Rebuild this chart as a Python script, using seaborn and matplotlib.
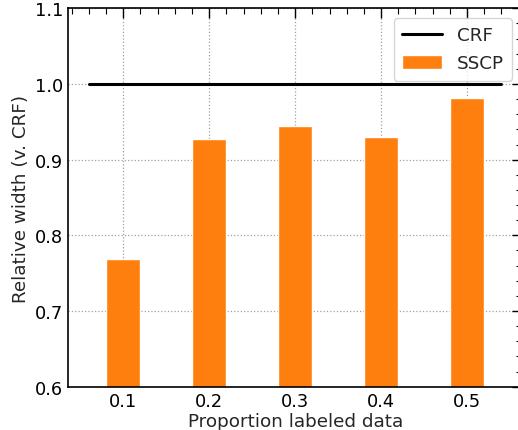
import matplotlib
matplotlib.use("Agg")
import matplotlib.pyplot as plt
import seaborn as sns
import pandas as pd
from matplotlib.ticker import MultipleLocator

proportions = [0.1, 0.2, 0.3, 0.4, 0.5]
sscp_width = [0.769, 0.927, 0.944, 0.930, 0.981]
crf_x = [0.06, 0.54]
crf_y = [1.0, 1.0]
x_ticklabels = ["0.1", "0.2", "0.3", "0.4", "0.5"]
y_ticks = [0.6, 0.7, 0.8, 0.9, 1.0, 1.1]
y_ticklabels = ["0.6", "0.7", "0.8", "0.9", "1.0", "1.1"]

sns.set_style("white")
plt.rcParams['font.family'] = ['DejaVu Sans']

W, H = 518, 431
L, R, T, B = 68.3, 522.0, 9.3, 387.7
fig = plt.figure(figsize=(W/100, H/100), dpi=100)
ax = fig.add_axes([L/W, 1 - B/H, (R - L)/W, (B - T)/H])

df = pd.DataFrame({"p": proportions, "w": sscp_width})
sns.barplot(data=df, x="p", y="w", native_scale=True, width=0.4,
            color="#ff7f0e", saturation=1, ax=ax, label="SSCP", zorder=2)
sns.lineplot(x=crf_x, y=crf_y, color="black", linewidth=2.2, ax=ax,
             label="CRF", zorder=3)

ax.set_xlim(0.036, 0.564)
ax.set_ylim(0.6, 1.1)
ax.xaxis.set_minor_locator(MultipleLocator(0.02))
ax.yaxis.set_minor_locator(MultipleLocator(0.02))
ax.set_xticks(proportions)
ax.set_xticklabels(x_ticklabels)
ax.set_yticks(y_ticks)
ax.set_yticklabels(y_ticklabels)

ax.tick_params(which="both", direction="in", top=True, right=True,
               colors="black", labelsize=12.8)
ax.tick_params(which="major", length=7, width=1, pad=3.5)
ax.tick_params(which="minor", length=4, width=0.8)
for s in ax.spines.values():
    s.set_color("black")
    s.set_linewidth(1.2)
ax.spines["right"].set_visible(False)

ax.grid(True, which="major", linestyle=":", color="#a0a0a0", linewidth=0.9, zorder=0)
ax.set_axisbelow(True)

ax.set_xlabel("Proportion labeled data", fontsize=13.2, labelpad=2)
ax.set_ylabel("Relative width (v. CRF)", fontsize=13.2, labelpad=4)

handles, labels = ax.get_legend_handles_labels()
order = [labels.index("CRF"), labels.index("SSCP")]
ax.legend([handles[i] for i in order], [labels[i] for i in order],
          loc="upper right",
          bbox_to_anchor=((512 - L)/(R - L), (B - 19)/(B - T)),
          borderaxespad=0,
          fontsize=13.2, frameon=True, fancybox=True, edgecolor="#cccccc",
          handlelength=2.2, handleheight=0.75, handletextpad=0.8,
          borderpad=0.45, labelspacing=0.55)

fig.savefig("out.png", dpi=100)
